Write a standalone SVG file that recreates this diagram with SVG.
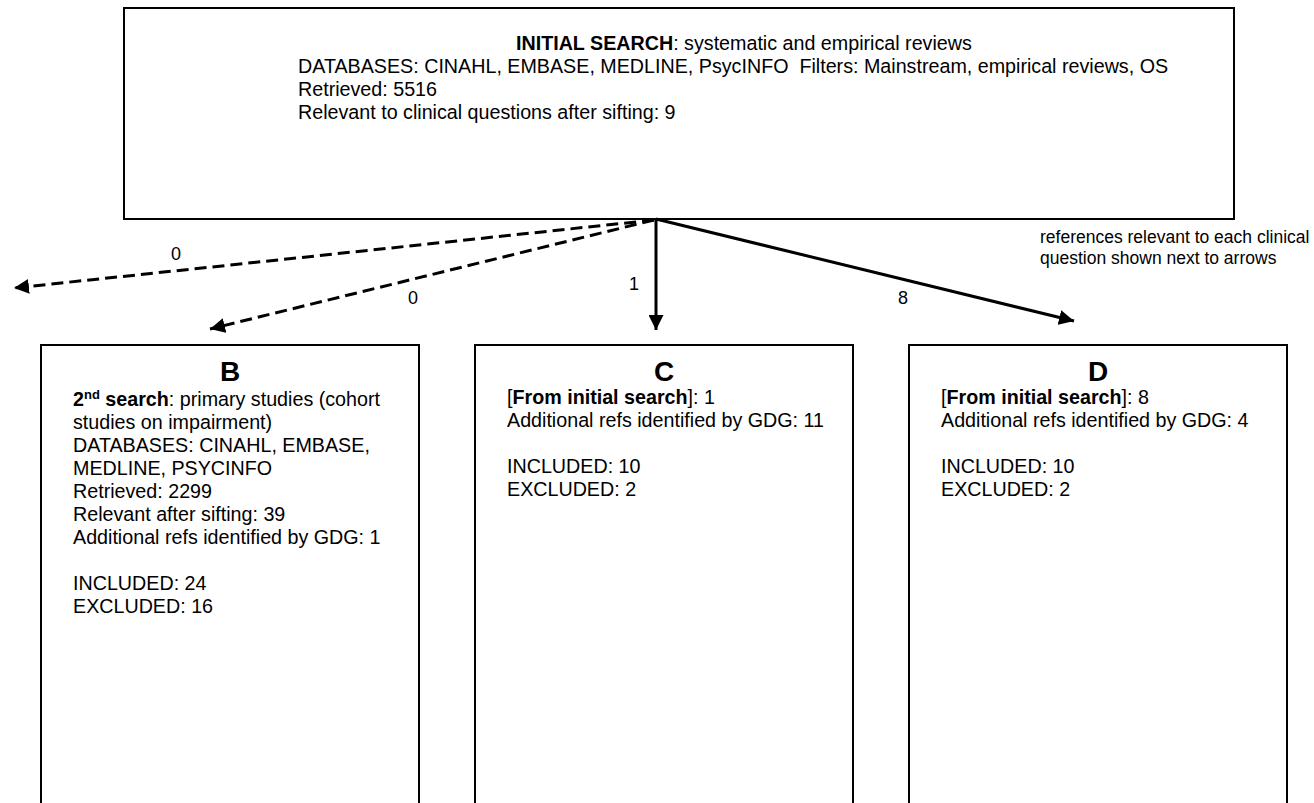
<svg xmlns="http://www.w3.org/2000/svg" width="1314" height="803" viewBox="0 0 1314 803">
<defs>
<style>
.box{fill:#fff;stroke:#000;stroke-width:2}
.t{font-family:"Liberation Sans",Arial,sans-serif;font-size:19.7px;fill:#000}
.b{font-weight:bold}
.letter{font-family:"Liberation Sans",Arial,sans-serif;font-size:28px;font-weight:bold;text-anchor:middle;fill:#000}
.lbl{font-family:"Liberation Sans",Arial,sans-serif;font-size:18px;fill:#000;text-anchor:middle}
.note{font-family:"Liberation Sans",Arial,sans-serif;font-size:17.5px;fill:#000}
.conn{stroke:#000;stroke-width:3;fill:none;marker-end:url(#ah)}
.dash{stroke-dasharray:12 6}
</style>
<marker id="ah" markerUnits="userSpaceOnUse" markerWidth="16" markerHeight="15" refX="15" refY="7.5" orient="auto">
<path d="M0,0 L15,7.5 L0,15 z" fill="#000"/>
</marker>
</defs>
<rect width="1314" height="803" fill="#fff"/>
<g id="initial">
<rect class="box" x="124" y="8" width="1110" height="211"/>
<text class="t" x="516" y="50"><tspan class="b">INITIAL SEARCH</tspan>: systematic and empirical reviews</text>
<text class="t" x="298" y="73" xml:space="preserve">DATABASES: CINAHL, EMBASE, MEDLINE, PsycINFO  Filters: Mainstream, empirical reviews, OS</text>
<text class="t" x="298" y="96">Retrieved: 5516</text>
<text class="t" x="298" y="119">Relevant to clinical questions after sifting: 9</text>
</g>
<g id="connectors">
<line class="conn dash" x1="654" y1="220" x2="14" y2="288"/>
<line class="conn dash" x1="654" y1="220" x2="210" y2="329"/>
<line class="conn" x1="656" y1="219" x2="656" y2="330"/>
<line class="conn" x1="656" y1="219" x2="1074" y2="321"/>
<text class="lbl" x="176" y="260">0</text>
<text class="lbl" x="413" y="304">0</text>
<text class="lbl" x="634" y="290">1</text>
<text class="lbl" x="903" y="304">8</text>
</g>
<g id="note">
<text class="note" x="1040" y="243">references relevant to each clinical</text>
<text class="note" x="1040" y="264">question shown next to arrows</text>
</g>
<g id="B">
<rect class="box" x="41" y="345" width="378" height="480"/>
<text class="letter" x="230" y="381">B</text>
<text class="t" x="73" y="406"><tspan class="b">2</tspan><tspan class="b" font-size="13px" dy="-7">nd</tspan><tspan class="b" dy="7"> search</tspan>: primary studies (cohort</text>
<text class="t" x="73" y="429">studies on impairment)</text>
<text class="t" x="73" y="452">DATABASES: CINAHL, EMBASE,</text>
<text class="t" x="73" y="475">MEDLINE, PSYCINFO</text>
<text class="t" x="73" y="498">Retrieved: 2299</text>
<text class="t" x="73" y="521">Relevant after sifting: 39</text>
<text class="t" x="73" y="544">Additional refs identified by GDG: 1</text>
<text class="t" x="73" y="590">INCLUDED: 24</text>
<text class="t" x="73" y="613">EXCLUDED: 16</text>
</g>
<g id="C">
<rect class="box" x="475" y="345" width="378" height="480"/>
<text class="letter" x="664" y="381">C</text>
<text class="t" x="507" y="404">[<tspan class="b">From initial search</tspan>]: 1</text>
<text class="t" x="507" y="427">Additional refs identified by GDG: 11</text>
<text class="t" x="507" y="473">INCLUDED: 10</text>
<text class="t" x="507" y="496">EXCLUDED: 2</text>
</g>
<g id="D">
<rect class="box" x="909" y="345" width="378" height="480"/>
<text class="letter" x="1098" y="381">D</text>
<text class="t" x="941" y="404">[<tspan class="b">From initial search</tspan>]: 8</text>
<text class="t" x="941" y="427">Additional refs identified by GDG: 4</text>
<text class="t" x="941" y="473">INCLUDED: 10</text>
<text class="t" x="941" y="496">EXCLUDED: 2</text>
</g>
</svg>
